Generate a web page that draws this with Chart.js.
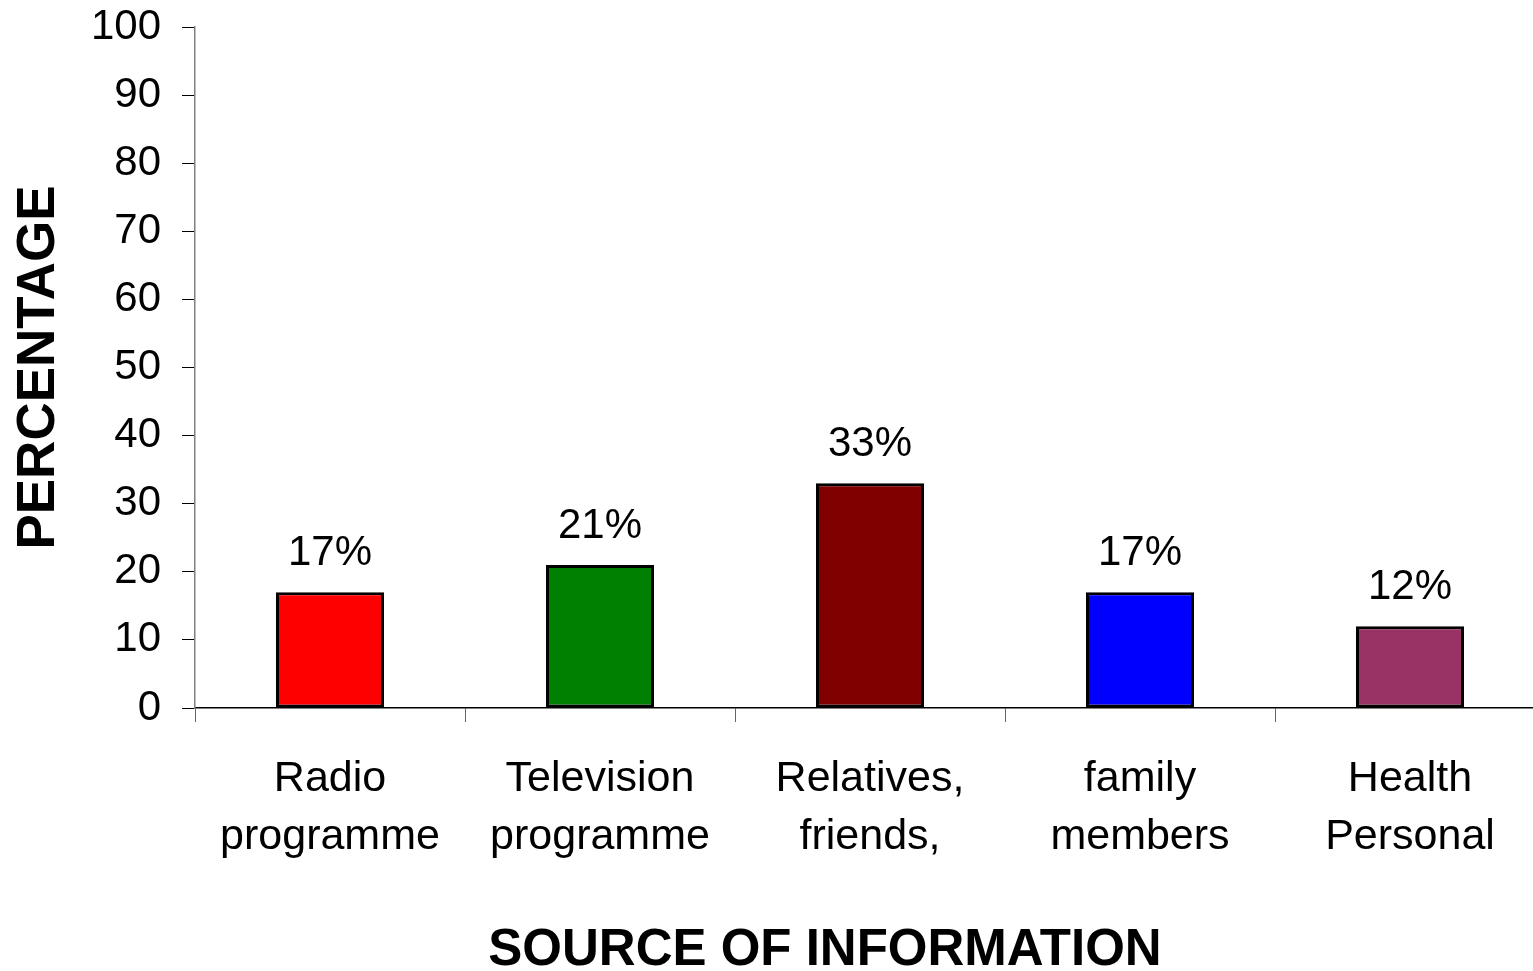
<!DOCTYPE html>
<html>
<head>
<meta charset="utf-8">
<title>Source of information</title>
<script src="https://cdn.jsdelivr.net/npm/chart.js@4/dist/chart.umd.min.js"></script>
<style>
  html, body { margin: 0; padding: 0; background: #fff; overflow: hidden; }
  #wrap { width: 1547px; height: 971px; position: relative; }
</style>
</head>
<body>
<div id="wrap"><canvas id="chart"></canvas></div>
<script>
var categories = [
    ['Radio', 'programme'],
    ['Television', 'programme'],
    ['Relatives,', 'friends,'],
    ['family', 'members'],
    ['Health', 'Personal']
];
var percentages = [17, 21, 33, 17, 12];
var barColors = ['#ff0000', '#008000', '#800000', '#0000ff', '#993366'];
var yTicks = [0, 10, 20, 30, 40, 50, 60, 70, 80, 90, 100];

var FONT = "'Liberation Sans', Arial, sans-serif";

// value labels over each bar
var barLabels = {
    id: 'barLabels',
    afterDatasetsDraw: function (chart) {
        var ctx = chart.ctx;
        var meta = chart.getDatasetMeta(0);
        ctx.save();
        ctx.font = '42px ' + FONT;
        ctx.fillStyle = '#000';
        ctx.textAlign = 'center';
        ctx.textBaseline = 'alphabetic';
        meta.data.forEach(function (bar, i) {
            ctx.fillText(percentages[i] + '%', bar.x, bar.y - 27);
        });
        ctx.restore();
    }
};

// x axis title sits a bit left of the plot centre
var xTitle = {
    id: 'xTitle',
    afterDraw: function (chart) {
        var ctx = chart.ctx;
        ctx.save();
        ctx.font = 'bold 51px ' + FONT;
        ctx.fillStyle = '#000';
        ctx.textAlign = 'center';
        ctx.textBaseline = 'alphabetic';
        ctx.fillText('SOURCE OF INFORMATION', 825, 965);
        ctx.restore();
    }
};

var ctx = document.getElementById('chart').getContext('2d');
new Chart(ctx, {
    type: 'bar',
    data: {
        labels: categories,
        datasets: [{
            data: percentages,
            backgroundColor: barColors,
            borderColor: '#000',
            borderWidth: 3,
            borderSkipped: false,
            barPercentage: 0.4,
            categoryPercentage: 1
        }]
    },
    options: {
        responsive: true,
        maintainAspectRatio: false,
        animation: false,
        layout: { padding: { top: 27, right: 2, left: 0, bottom: 0 } },
        plugins: {
            legend: { display: false },
            tooltip: { enabled: false }
        },
        scales: {
            x: {
                afterFit: function (scale) { scale.height = 263; },
                border: { color: '#000', width: 1.5 },
                grid: {
                    offset: true,
                    drawOnChartArea: false,
                    drawTicks: true,
                    tickLength: 14,
                    color: '#666'
                },
                ticks: {
                    color: '#000',
                    padding: 28,
                    maxRotation: 0,
                    autoSkip: false,
                    font: { family: FONT, size: 43, lineHeight: 1.35 }
                }
            },
            y: {
                min: 0,
                max: 100,
                afterFit: function (scale) {
                    scale.width = 195;
                    scale.paddingTop = 0;
                    scale.paddingBottom = 0;
                },
                afterBuildTicks: function (scale) {
                    scale.ticks = yTicks.map(function (v) { return { value: v }; });
                },
                border: { color: '#808080', width: 1.5 },
                grid: {
                    drawOnChartArea: false,
                    drawTicks: true,
                    tickLength: 13,
                    color: '#000'
                },
                ticks: {
                    color: '#000',
                    padding: 21,
                    font: { family: FONT, size: 42 }
                },
                title: {
                    display: true,
                    text: 'PERCENTAGE',
                    color: '#000',
                    padding: { top: 8, bottom: 0 },
                    font: { family: FONT, size: 53, weight: 'bold' }
                }
            }
        }
    },
    plugins: [barLabels, xTitle]
});
</script>
</body>
</html>
